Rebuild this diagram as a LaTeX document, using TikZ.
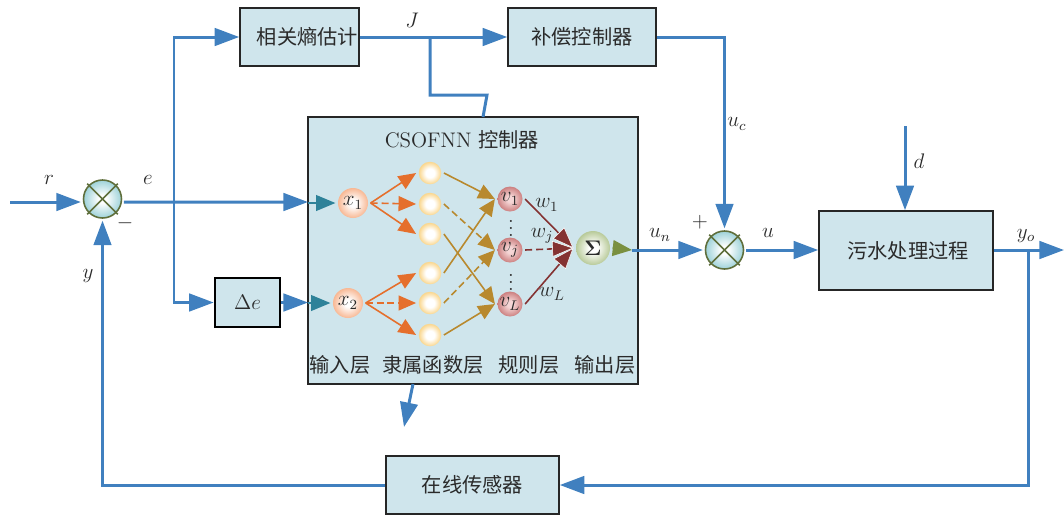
\documentclass[tikz,border=0pt]{standalone}
\usepackage{amsmath,amssymb}
\usepackage{xcolor}
\usepackage{fontspec}
\usepackage{tikz}
\usetikzlibrary{arrows.meta,calc}
\newfontfamily\cjk[Scale=0.96]{Noto Sans CJK SC}
\definecolor{flow}{HTML}{4080BF}
\definecolor{panel}{HTML}{CFE5EC}
\definecolor{inflow}{HTML}{2E8299}
\definecolor{fuzzy}{HTML}{E56F2C}
\definecolor{rulecol}{HTML}{B8892E}
\definecolor{weight}{HTML}{843232}
\definecolor{outflow}{HTML}{7A9040}
\definecolor{ink}{HTML}{2A2A2A}
\definecolor{ring}{HTML}{5F6F3C}
\definecolor{sumrim}{HTML}{9ED2D9}
\definecolor{inrim}{HTML}{F8B894}
\definecolor{fuzzrim}{HTML}{FAD68C}
\definecolor{rulerim}{HTML}{CC8080}
\definecolor{rulemid}{HTML}{F5D6D6}
\definecolor{outrim}{HTML}{B8CA99}
\pgfdeclareradialshading{sumshade}{\pgfpoint{0bp}{0bp}}{color(0bp)=(white); color(5bp)=(white); color(25bp)=(sumrim); color(50bp)=(sumrim)}
\pgfdeclareradialshading{inshade}{\pgfpoint{0bp}{0bp}}{color(0bp)=(white); color(6bp)=(white); color(25bp)=(inrim); color(50bp)=(inrim)}
\pgfdeclareradialshading{fuzzshade}{\pgfpoint{0bp}{0bp}}{color(0bp)=(white); color(10bp)=(white); color(25bp)=(fuzzrim); color(50bp)=(fuzzrim)}
\pgfdeclareradialshading{ruleshade}{\pgfpoint{0bp}{0bp}}{color(0bp)=(rulemid); color(6bp)=(rulemid); color(25bp)=(rulerim); color(50bp)=(rulerim)}
\pgfdeclareradialshading{outshade}{\pgfpoint{0bp}{0bp}}{color(0bp)=(white); color(6bp)=(white); color(25bp)=(outrim); color(50bp)=(outrim)}
\tikzset{
  every node/.style={text=ink, font=\fontsize{12}{14}\selectfont, inner sep=1pt},
  blockbox/.style={draw=black!85, fill=panel, line width=0.9pt, inner sep=0pt},
  sumnode/.style={circle, draw=ring, line width=0.9pt, shading=sumshade, minimum size=0.76cm, inner sep=0pt, outer sep=1.5pt},
  crossline/.style={draw=ring, line width=0.9pt},
  flowline/.style={draw=flow, line width=1.7pt},
  flowarrow/.style={flowline, -{Triangle[length=14pt,width=10pt]}},
  dashline/.style={dash pattern=on 4pt off 2.2pt},
  inarrow/.style={draw=inflow, line width=0.9pt, -{Triangle[length=11pt,width=9pt]}},
  fuzzyarrow/.style={draw=fuzzy, line width=0.9pt, -{Triangle[length=10pt,width=8.5pt]}},
  rulearrow/.style={draw=rulecol, line width=0.9pt, -{Triangle[length=9.5pt,width=8.5pt]}},
  weightarrow/.style={draw=weight, line width=0.9pt, -{Triangle[length=12pt,width=9pt,color=white,fill=weight,line width=0.3pt]}},
  outarrow/.style={draw=outflow, line width=0.9pt, -{Triangle[length=11pt,width=9pt]}},
  inball/.style={circle, shading=inshade, minimum size=0.6cm, inner sep=0pt, outer sep=1.5pt},
  fuzzball/.style={circle, shading=fuzzshade, minimum size=0.45cm, inner sep=0pt, outer sep=1.5pt},
  ruleball/.style={circle, shading=ruleshade, minimum size=0.5cm, inner sep=0pt, outer sep=1.5pt},
  outball/.style={circle, shading=outshade, minimum size=0.68cm, inner sep=0pt, outer sep=1.5pt}
}

\begin{document}
\begin{tikzpicture}[x=0.02cm,y=-0.02cm]
  \useasboundingbox (0,0) rectangle (1064,515);

  \node[blockbox, minimum width=6.6cm, minimum height=5.34cm] (ctrl) at (473,250.5) {};
  \node[blockbox, minimum width=2.38cm, minimum height=1.16cm] (entropy) at (299.5,37) {\hspace*{0.32cm}\cjk 相关熵估计};
  \node[blockbox, minimum width=2.96cm, minimum height=1.16cm] (comp) at (582,37) {\cjk 补偿控制器};
  \node[blockbox, draw=black, line width=1.5pt, minimum width=1.3cm, minimum height=0.98cm] (de) at (247.5,302.5) {$\Delta e$};
  \node[blockbox, minimum width=3.48cm, minimum height=1.58cm] (plant) at (906,250.5) {\hspace*{0.08cm}\cjk 污水处理过程};
  \node[blockbox, minimum width=3.46cm, minimum height=1.16cm] (sensor) at (472.5,485) {\cjk 在线传感器};

  \node[sumnode] (sumA) at (102.5,199) {};
  \node[sumnode] (sumB) at (724.5,250) {};
  \draw[crossline] (sumA.45) -- (sumA.225);
  \draw[crossline] (sumA.135) -- (sumA.315);
  \draw[crossline] (sumB.45) -- (sumB.225);
  \draw[crossline] (sumB.135) -- (sumB.315);

  \coordinate (refin) at (10,202);
  \coordinate (ejoin) at (174,202);
  \coordinate (ctrlinA) at (308,202);
  \coordinate (ctrlinB) at (308,302.5);
  \coordinate (jjoin) at (430,37);
  \coordinate (jturn) at (430,95);
  \coordinate (jbend) at (487,95);
  \coordinate (jend) at (483,117);
  \coordinate (adaptstart) at (413,384);
  \coordinate (adaptend) at (404,427);
  \coordinate (ctrlout) at (632,250);
  \coordinate (distin) at (905,126);
  \coordinate (plantout) at (1064,250);
  \coordinate (yjoin) at (1028,250);

  \draw[flowarrow] (refin) -- (sumA.west |- refin);
  \draw[flowarrow] (sumA.-8) -- (ctrlinA);
  \draw[flowarrow] (ejoin) |- (entropy.west);
  \draw[flowarrow] (ejoin) |- (de.west);
  \draw[flowarrow] (de.east) -- (ctrlinB);
  \draw[flowarrow] (entropy.east) -- (comp.west);
  \draw[flowline] (jjoin) -- (jturn) -- (jbend) -- (jend);
  \draw[flowarrow] (adaptstart) -- (adaptend);
  \draw[flowarrow] (comp.east) -| (sumB.north);
  \draw[flowarrow] (ctrlout) -- (sumB.west);
  \draw[flowarrow] (sumB.east) -- (plant.west |- sumB.east);
  \draw[flowarrow] (distin) -- (distin |- plant.north);
  \draw[flowarrow] (plant.east |- plantout) -- (plantout);
  \draw[flowarrow] (yjoin) |- (sensor.east);
  \draw[flowarrow] (sensor.west) -| (sumA.south);

  \node[inball] (xa) at (353,203) {$x_1$};
  \node[inball] (xb) at (348,303) {$x_2$};
  \node[fuzzball] (ma) at (430,173) {};
  \node[fuzzball] (mb) at (430,204) {};
  \node[fuzzball] (mc) at (430,234) {};
  \node[fuzzball] (md) at (430,273) {};
  \node[fuzzball] (me) at (430,303) {};
  \node[fuzzball] (mf) at (430,335) {};
  \node[ruleball] (va) at (510,199) {$v_1$};
  \node[ruleball] (vb) at (510,250) {$v_j$};
  \node[ruleball] (vc) at (510,304) {$v_L$};
  \node[outball] (sigma) at (593,248) {$\boldsymbol{\Sigma}$};

  \draw[inarrow] (ctrlinA |- xa) -- (xa.west);
  \draw[inarrow] (ctrlinB |- xb) -- (xb.west);
  \draw[fuzzyarrow] (xa.east) -- (ma.west);
  \draw[fuzzyarrow, dashline] (xa.east) -- (mb.west);
  \draw[fuzzyarrow] (xa.east) -- (mc.west);
  \draw[fuzzyarrow] (xb.east) -- (md.west);
  \draw[fuzzyarrow, dashline] (xb.east) -- (me.west);
  \draw[fuzzyarrow] (xb.east) -- (mf.west);
  \draw[rulearrow] (ma.east) -- (va.west);
  \draw[rulearrow, dashline] (mb.east) -- (vb.west);
  \draw[rulearrow] (mc.east) -- (vc.west);
  \draw[rulearrow] (md.east) -- (va.west);
  \draw[rulearrow, dashline] (me.east) -- (vb.west);
  \draw[rulearrow] (mf.east) -- (vc.west);
  \draw[weightarrow] (va.east) -- (sigma.west);
  \draw[weightarrow, dashline] (vb.east) -- (sigma.west);
  \draw[weightarrow] (vc.east) -- (sigma.west);
  \draw[outarrow] (sigma.east) -- (ctrlout);

  \node (title) at (462,140) {CSOFNN {\cjk 控制器}};
  \node (layera) at (340,365) {\cjk 输入层};
  \node (layerb) at (433,365) {\cjk 隶属函数层};
  \node (layerc) at (529,365) {\cjk 规则层};
  \node (layerd) at (605,365) {\cjk 输出层};
  \node (dotsa) at (511,223) {$\vdots$};
  \node (dotsb) at (511,277) {$\vdots$};
  \node (wa) at (547,205) {$w_1$};
  \node (wb) at (542,236) {$w_j$};
  \node (wc) at (552,294) {$w_L$};
  \node (labr) at (49,180) {$r$};
  \node (labe) at (148,180) {$e$};
  \node (laby) at (88,276) {$y$};
  \node (labminus) at (125,223) {$-$};
  \node (labj) at (412,20) {$J$};
  \node (labuc) at (737,124) {$u_c$};
  \node (labd) at (919,161) {$d$};
  \node (labplus) at (700,222) {$+$};
  \node (labun) at (660,235) {$u_n$};
  \node (labu) at (768,233) {$u$};
  \node (labyo) at (1026,236) {$y_o$};
\end{tikzpicture}
\end{document}
